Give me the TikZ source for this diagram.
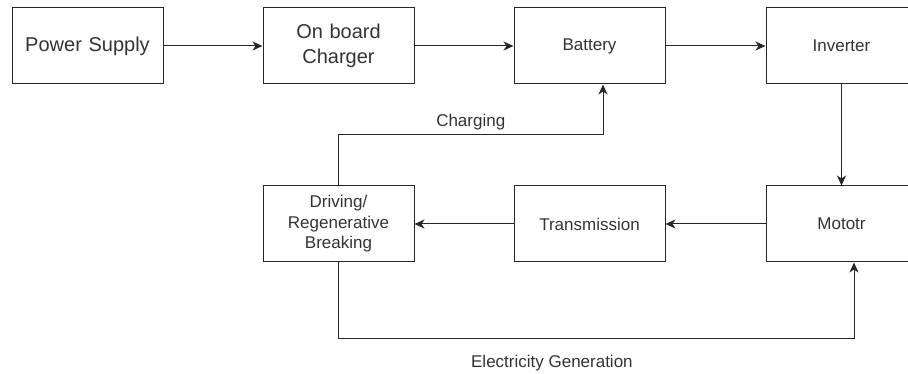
\documentclass[tikz,border=0pt]{standalone}
\usepackage{fontspec}
\setmainfont{Liberation Sans}
\usetikzlibrary{arrows.meta,positioning,calc}

\begin{document}
\begin{tikzpicture}[
			x=1pt, y=-1pt,
			>={Stealth[length=10pt,width=9pt,inset=3pt]},
			font=\fontsize{17}{20.5}\selectfont,
			block/.style={
				rectangle, draw=black!85, line width=1pt,
				minimum width=151pt, minimum height=76pt,
				text width=140pt, align=center,
				inner sep=0pt, text=black!80
			},
			bigtext/.style={font=\fontsize{20}{24.5}\selectfont},
			arr/.style={->, line width=1pt, black!85},
			lbl/.style={font=\fontsize{17}{20.5}\selectfont, text=black!80}
			]
			
			%% ── Frame ───────────────────────────────────────────────────────────
			\clip (0,0) rectangle (908,374);
			\useasboundingbox (0,0) rectangle (908,374);
			
			%% ── Top row ─────────────────────────────────────────────────────────
			\node[block, bigtext] (supply) at (87.5, 46) {Power Supply};
			\node[block, bigtext] (charger) at (338.5, 46) {On board\\Charger};
			\node[block] (batt) at (589.5, 46) {Battery};
			\node[block] (inv) at (841.5, 46) {Inverter};
			
			\draw[arr] (supply) -- (charger);
			\draw[arr] (charger) -- (batt);
			\draw[arr] (batt) -- (inv);
			
			%% ── Bottom row ──────────────────────────────────────────────────────
			\node[block] (drive) at (338.5, 224) {Driving/\\Regenerative\\Breaking};
			\node[block] (trans) at (589.5, 224) {Transmission};
			\node[block] (motor) at (841.5, 224) {Mototr};
			
			\draw[arr] (inv) -- (motor);
			\draw[arr] (motor) -- (trans);
			\draw[arr] (trans) -- (drive);
			
			%% ── Feedback loops ──────────────────────────────────────────────────
			\coordinate (chg) at (603, 134.5);
			\draw[arr] (drive.north) |- node[lbl, pos=0.75, above=1pt] {Charging} (chg) -- (chg |- batt.south);
			
			\coordinate (gen) at (854, 338.5);
			\draw[arr] (drive.south) |- node[lbl, pos=0.707, below=13pt] {Electricity Generation} (gen) -- (gen |- motor.south);
			
		\end{tikzpicture}
\end{document}
